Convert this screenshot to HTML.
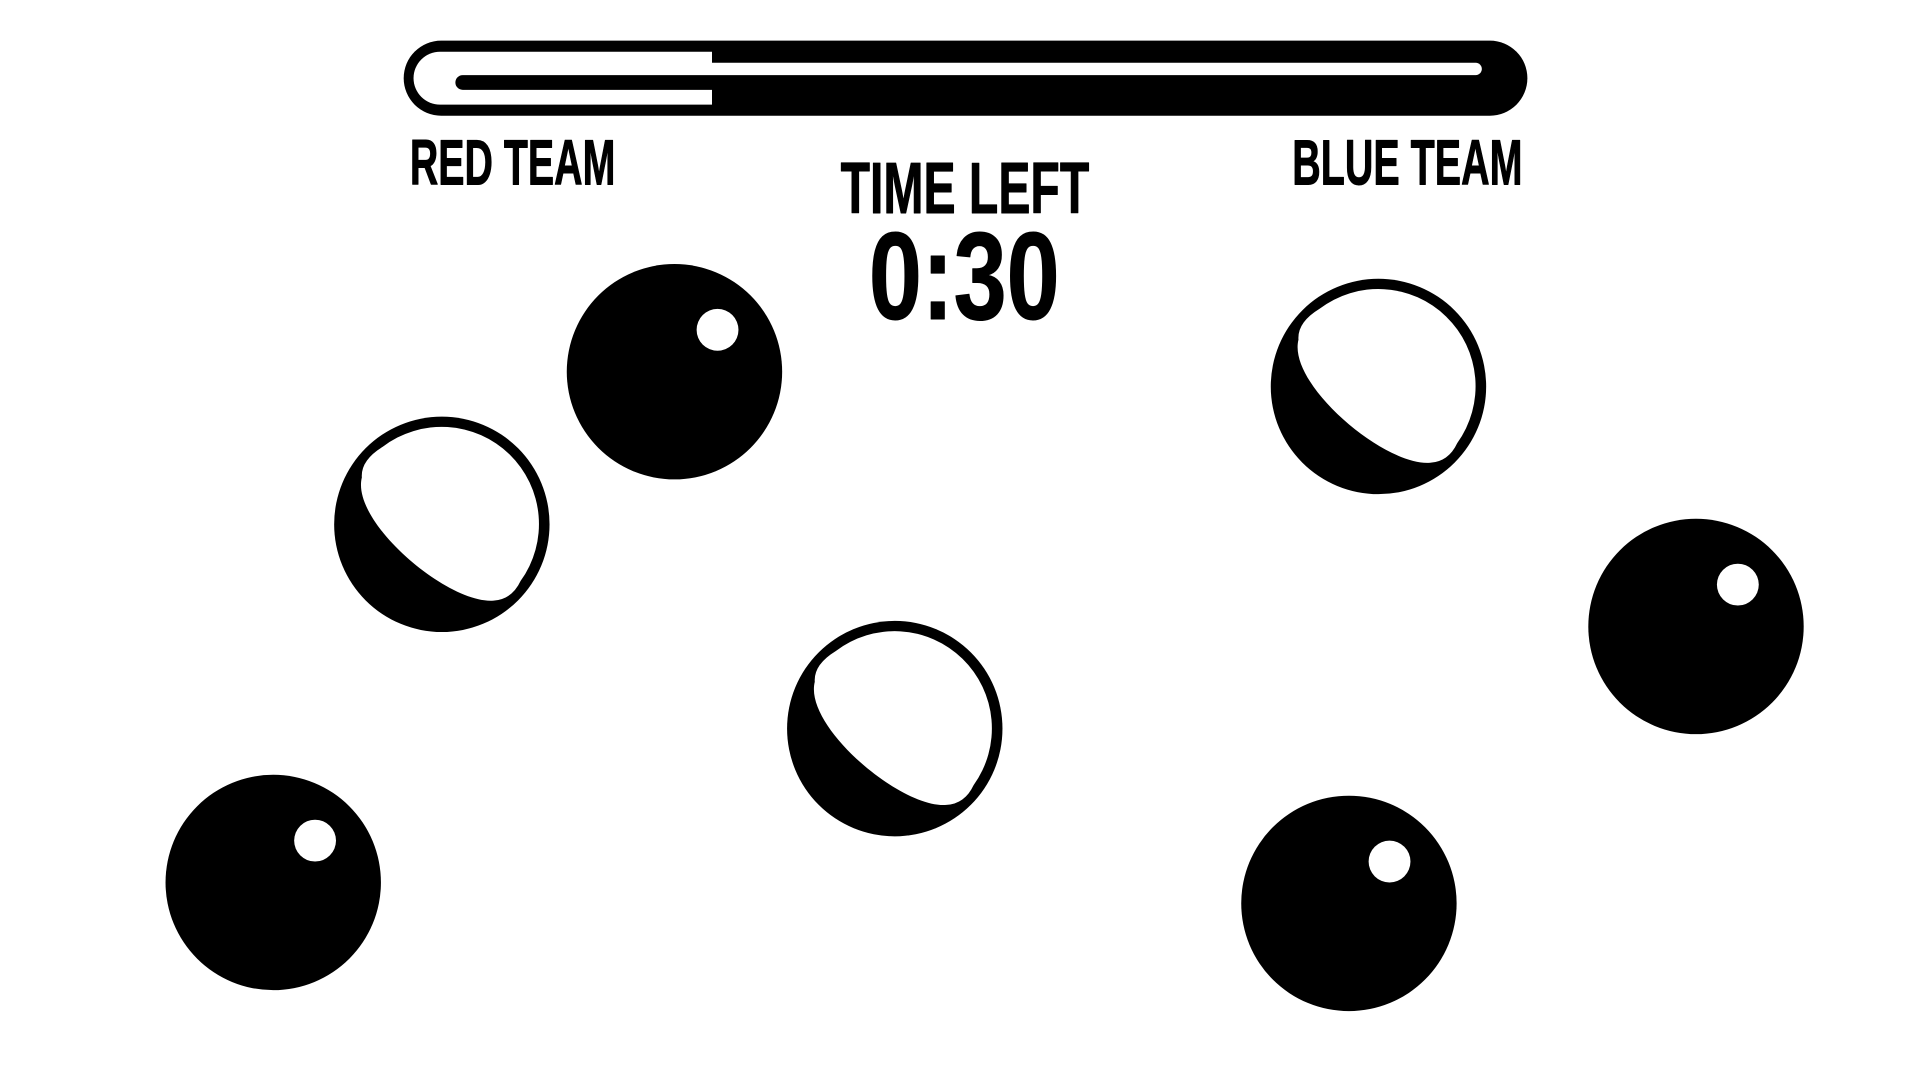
<!DOCTYPE html>
<html><head><meta charset="utf-8"><style>html,body{margin:0;padding:0;background:#fff;overflow:hidden}svg{display:block}</style></head>
<body>
<svg width="1920" height="1081" viewBox="0 0 1560 878.3" preserveAspectRatio="none" xmlns="http://www.w3.org/2000/svg">
<defs>
<g id="hollow">
<circle cx="0" cy="0" r="87.5" fill="#000"/>
<path d="M-65 -38 Q-66 -52 -48 -63 A79 79 0 0 1 64 46 Q57 61 42 62 C5 65 -74 -2 -65 -38 Z" fill="#fff"/>
</g>
</defs>
<rect x="328" y="33" width="913" height="61" rx="30.5" fill="#000"/>
<path d="M357.5 42 H578.5 V85 H357.5 A21.5 21.5 0 0 1 357.5 42 Z" fill="#fff"/>
<path d="M578.5 51 H1199 A5 5 0 0 1 1199 61 H578.5 Z" fill="#fff"/>
<path d="M376 61 H578.5 V73 H376 A6 6 0 0 1 376 61 Z" fill="#000"/>
<g font-family="Liberation Sans, sans-serif" font-weight="bold" fill="#000" stroke="#000" stroke-width="0.8" stroke-linejoin="round">
<text x="333" y="150" font-size="52" textLength="167" lengthAdjust="spacingAndGlyphs">RED TEAM</text>
<text x="1050" y="150" font-size="52" textLength="187" lengthAdjust="spacingAndGlyphs">BLUE TEAM</text>
<text x="683" y="173" font-size="59" textLength="202" lengthAdjust="spacingAndGlyphs">TIME LEFT</text>
<text x="706" y="259" font-size="101" textLength="155" lengthAdjust="spacingAndGlyphs">0:30</text>
</g>
<g fill="#000">
<circle cx="548" cy="302" r="87.5"/>
<circle cx="1378" cy="509" r="87.5"/>
<circle cx="222" cy="717" r="87.5"/>
<circle cx="1096" cy="734" r="87.5"/>
</g>
<g fill="#fff">
<circle cx="583" cy="268" r="17"/>
<circle cx="1412" cy="475" r="17"/>
<circle cx="256" cy="683" r="17"/>
<circle cx="1129" cy="700" r="17"/>
</g>
<use href="#hollow" transform="translate(359,426)"/>
<use href="#hollow" transform="translate(1120,314)"/>
<use href="#hollow" transform="translate(727,592)"/>
</svg>
</body></html>
